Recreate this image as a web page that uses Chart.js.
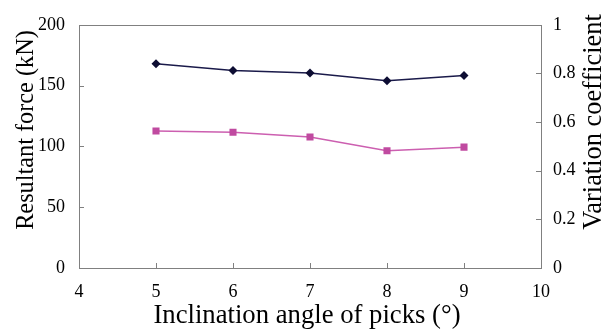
<!DOCTYPE html>
<html>
<head>
<meta charset="utf-8">
<script src="https://cdn.jsdelivr.net/npm/chart.js@4.4.1/dist/chart.umd.min.js"></script>
<style>
  html, body { margin: 0; padding: 0; background: #fff; }
  #wrap { width: 604px; height: 331px; }
</style>
</head>
<body>
<div id="wrap"><canvas id="chart" width="604" height="331"></canvas></div>
<script>
// inclination angle of picks (degrees)
const angles = [5, 6, 7, 8, 9];
// resultant force, kN (left axis)
const resultantForce = [168, 162.4, 160.3, 153.9, 158.4];
// variation coefficient (right axis)
const variationCoef = [0.563, 0.558, 0.539, 0.482, 0.497];

const xTicks = [4, 5, 6, 7, 8, 9, 10];
const forceTicks = [0, 50, 100, 150, 200];
const coefTicks = [0, 0.2, 0.4, 0.6, 0.8, 1];

const FONT = 'Liberation Serif';

// draw a title scaled so it spans the given width
function fitText(ctx, text, width) {
  ctx.font = '24px "' + FONT + '"';
  const size = 24 * width / ctx.measureText(text).width;
  ctx.font = size.toFixed(1) + 'px "' + FONT + '"';
  ctx.fillText(text, 0, 0);
}

// frame, inward tick marks and axis titles
const framePlugin = {
  id: 'frame',
  afterDraw(chart) {
    const ctx = chart.ctx;
    const a = chart.chartArea;
    const sx = chart.scales.x, sy = chart.scales.y, sy1 = chart.scales.y1;
    ctx.save();
    ctx.strokeStyle = '#808080';
    ctx.lineWidth = 1;
    ctx.strokeRect(Math.round(a.left) + 0.5, Math.round(a.top) + 0.5,
      Math.round(a.right - a.left), Math.round(a.bottom - a.top));
    ctx.beginPath();
    xTicks.forEach(v => {
      const px = Math.round(sx.getPixelForValue(v)) + 0.5;
      ctx.moveTo(px, a.bottom); ctx.lineTo(px, a.bottom - 5);
    });
    forceTicks.forEach(v => {
      const py = Math.round(sy.getPixelForValue(v)) + 0.5;
      ctx.moveTo(a.left, py); ctx.lineTo(a.left + 5, py);
    });
    coefTicks.forEach(v => {
      const py = Math.round(sy1.getPixelForValue(v)) + 0.5;
      ctx.moveTo(a.right, py); ctx.lineTo(a.right - 5, py);
    });
    ctx.stroke();

    ctx.fillStyle = '#000';
    ctx.textAlign = 'center';
    ctx.textBaseline = 'alphabetic';
    ctx.translate(307, 323);
    fitText(ctx, 'Inclination angle of picks (\u00B0)', 307);
    ctx.setTransform(1, 0, 0, 1, 0, 0);

    ctx.translate(33, 130);
    ctx.rotate(-Math.PI / 2);
    fitText(ctx, 'Resultant force (kN)', 200);
    ctx.setTransform(1, 0, 0, 1, 0, 0);

    ctx.translate(601, 122);
    ctx.rotate(-Math.PI / 2);
    fitText(ctx, 'Variation coefficient', 216);
    ctx.restore();
  }
};

const tickFont = { family: FONT, size: 18 };

new Chart(document.getElementById('chart'), {
  type: 'line',
  data: {
    datasets: [
      {
        label: 'Resultant force (kN)',
        data: angles.map((a, i) => ({ x: a, y: resultantForce[i] })),
        yAxisID: 'y',
        borderColor: '#1a1a4a',
        backgroundColor: '#0d0d33',
        borderWidth: 1.5,
        pointStyle: 'rectRot',
        pointRadius: 4.5,
        pointBorderWidth: 0,
        tension: 0
      },
      {
        label: 'Variation coefficient',
        data: angles.map((a, i) => ({ x: a, y: variationCoef[i] })),
        yAxisID: 'y1',
        borderColor: '#cc5fb0',
        backgroundColor: '#c04aa0',
        borderWidth: 1.5,
        pointStyle: 'rect',
        pointRadius: 5,
        pointBorderWidth: 0,
        tension: 0
      }
    ]
  },
  options: {
    responsive: false,
    animation: false,
    layout: { padding: { top: 16, left: 0, right: 0, bottom: 0 } },
    plugins: { legend: { display: false }, tooltip: { enabled: false } },
    scales: {
      x: {
        type: 'linear', position: 'bottom', min: 4, max: 10,
        afterBuildTicks: s => { s.ticks = xTicks.map(v => ({ value: v })); },
        afterFit: s => { s.height = 63; },
        grid: { display: false, drawTicks: false },
        border: { display: false },
        ticks: { font: tickFont, color: '#000', padding: 13, maxRotation: 0 }
      },
      y: {
        type: 'linear', position: 'left', min: 0, max: 200,
        afterBuildTicks: s => { s.ticks = forceTicks.map(v => ({ value: v })); },
        afterFit: s => { s.width = 79; },
        grid: { display: false, drawTicks: false },
        border: { display: false },
        ticks: { font: tickFont, color: '#000', padding: 14 }
      },
      y1: {
        type: 'linear', position: 'right', min: 0, max: 1,
        afterBuildTicks: s => { s.ticks = coefTicks.map(v => ({ value: v })); },
        afterFit: s => { s.width = 63; },
        grid: { display: false, drawTicks: false },
        border: { display: false },
        ticks: { font: tickFont, color: '#000', padding: 12, callback: v => String(v) }
      }
    }
  },
  plugins: [framePlugin]
});
</script>
</body>
</html>
